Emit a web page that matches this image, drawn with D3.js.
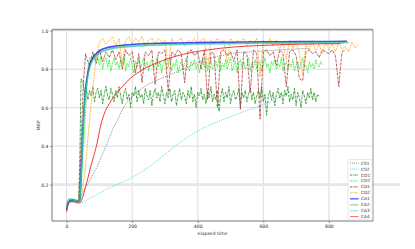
<!DOCTYPE html>
<html lang="en">
<head>
<meta charset="UTF-8">
<title>MAP vs elapsed time</title>
<style>
    body { margin: 0; background: #fff; }
    svg { display: block; font-family: "DejaVu Sans", sans-serif; }
</style>
</head>
<body>
<svg id="chart" width="415" height="249"></svg>
<script src="https://d3js.org/d3.v7.min.js"></script>
<script>

// ---- data ----
const xTicks = [0, 200, 400, 600, 800];
const yTicks = [0.2, 0.4, 0.6, 0.8, 1.0];
const names = ["CS1", "CS2", "CO1", "CO2", "CD1", "CD2", "CA1", "CA2", "CA3", "CA4"];

// smooth runs: [time, MAP]
const cs1 = [[0,0.08],[5,0.1],[10,0.11],[20,0.112],[30,0.11],[37,0.12],[50,0.16],[63,0.2],[78,0.245],[93,0.293],
    [110,0.36],[124,0.415],[144,0.5],[154,0.53],[169,0.585],[195,0.65],[230,0.7],[255,0.727],[286,0.75],[320,0.775],
    [357,0.8],[407,0.84],[460,0.865],[509,0.883],[580,0.892],[650,0.9],[700,0.905],[740,0.908]];
const cs2 = [[0,0.07],[5,0.095],[10,0.105],[20,0.108],[30,0.105],[40,0.105],[73,0.13],[124,0.178],[195,0.233],
    [245,0.285],[286,0.337],[331,0.4],[402,0.48],[488,0.545],[554,0.588],[620,0.63],[685,0.685]];
const ca1 = [[0,0.07],[3,0.095],[8,0.115],[15,0.12],[25,0.118],[35,0.112],[40,0.12],[45,0.3],[50,0.5],[55,0.64],
    [60,0.73],[65,0.78],[70,0.82],[80,0.86],[90,0.88],[100,0.895],[120,0.91],[150,0.92],[200,0.928],[300,0.935],
    [400,0.938],[500,0.94],[600,0.942],[700,0.943],[800,0.944],[855,0.945]];
const ca2 = [[0,0.08],[3,0.11],[8,0.125],[15,0.125],[25,0.12],[35,0.115],[40,0.12],[45,0.28],[50,0.48],[55,0.62],
    [60,0.71],[65,0.77],[70,0.81],[80,0.85],[90,0.87],[100,0.885],[120,0.9],[150,0.912],[200,0.92],[300,0.928],
    [400,0.932],[500,0.934],[600,0.936],[700,0.937],[800,0.938],[860,0.938]];
const ca3 = [[0,0.075],[3,0.1],[8,0.118],[15,0.122],[25,0.118],[35,0.112],[40,0.118],[45,0.27],[50,0.47],[55,0.61],
    [60,0.7],[65,0.76],[70,0.8],[80,0.845],[90,0.868],[100,0.882],[120,0.898],[150,0.91],[200,0.918],[300,0.926],
    [400,0.93],[500,0.932],[600,0.934],[700,0.935],[800,0.936],[845,0.936]];
const ca4 = [[0,0.058],[3,0.09],[8,0.11],[15,0.112],[25,0.11],[35,0.105],[40,0.105],[50,0.14],[58,0.19],[66,0.24],
    [73,0.29],[83,0.35],[93,0.415],[103,0.5],[113,0.56],[130,0.62],[144,0.657],[170,0.71],[195,0.753],[230,0.795],
    [286,0.84],[357,0.878],[430,0.9],[509,0.915],[580,0.922],[650,0.927],[720,0.93],[800,0.932],[835,0.932]];

// noisy runs: a start-up part, then one value every `step` time units
const co1Head = [[0,0.075],[5,0.1],[10,0.115],[20,0.12],[30,0.115],[37,0.11],[41,0.4],[44,0.75]];
const co1Vals = [
    0.73,0.68,0.70,0.64,0.69,0.66,0.71,0.63,0.68,0.70,0.65,0.69,0.62,0.67,0.71,0.66,0.64,0.70,0.67,0.63,
    0.69,0.65,0.71,0.66,0.62,0.68,0.70,0.64,0.67,0.60,0.68,0.66,0.71,0.63,0.69,0.65,0.67,0.62,0.70,0.66,
    0.64,0.69,0.61,0.67,0.70,0.65,0.68,0.63,0.71,0.66,0.62,0.68,0.65,0.70,0.63,0.67,0.69,0.61,0.66,0.70,
    0.64,0.68,0.66,0.62,0.69,0.65,0.71,0.63,0.67,0.60,0.68,0.66,0.70,0.64,0.67,0.62,0.69,0.65,0.71,0.63,
    0.67,0.64,0.69,0.58,0.66,0.70,0.63,0.68,0.65,0.71,0.62,0.67,0.69,0.64,0.66,0.70,0.61,0.68,0.65,0.69,
    0.63,0.67,0.70,0.64,0.68,0.62,0.66,0.69,0.65,0.71,0.63,0.67,0.56,0.66,0.69,0.64,0.68,0.61,0.67,0.70,
    0.65,0.68,0.62,0.69,0.66,0.71,0.63,0.67,0.64,0.70,0.61,0.68,0.65,0.60,0.69,0.66,0.62,0.68,0.65,0.70,
    0.64,0.68,0.63,0.67,0.66];

const co2Head = [[0,0.08],[5,0.105],[10,0.12],[20,0.125],[30,0.12],[40,0.115],[45,0.2],[50,0.35],[55,0.5],
    [58,0.59],[62,0.72],[66,0.82],[70,0.86]];
const co2Vals = [
    0.85,0.88,0.83,0.86,0.82,0.87,0.80,0.84,0.86,0.81,0.85,0.79,0.83,0.86,0.82,0.84,0.80,0.85,0.83,0.87,
    0.79,0.83,0.81,0.86,0.82,0.78,0.84,0.81,0.85,0.80,0.83,0.86,0.81,0.84,0.79,0.83,0.85,0.80,0.82,0.86,
    0.81,0.84,0.78,0.83,0.85,0.80,0.82,0.86,0.79,0.83,0.81,0.85,0.78,0.82,0.84,0.80,0.83,0.86,0.81,0.79,
    0.84,0.82,0.85,0.80,0.83,0.78,0.82,0.86,0.81,0.84,0.79,0.83,0.85,0.80,0.82,0.84,0.81,0.86,0.79,0.83,
    0.81,0.85,0.80,0.83,0.86,0.79,0.82,0.84,0.78,0.83,0.85,0.81,0.84,0.80,0.82,0.86,0.79,0.83,0.81,0.85,
    0.80,0.83,0.84,0.79,0.82,0.86,0.81,0.83,0.78,0.84,0.82,0.85,0.80,0.83,0.81,0.86,0.79,0.82,0.84,0.80,
    0.83,0.81,0.85,0.79,0.82,0.84,0.80,0.83,0.86,0.81,0.82,0.78,0.84,0.81,0.83,0.80,0.85,0.82,0.81,0.84,
    0.82];

const cd1Head = [[0,0.07],[5,0.1],[10,0.115],[20,0.12],[30,0.115],[37,0.12],[42,0.3],[47,0.55],[52,0.75],[58,0.88]];
const cd1Vals = [
    0.86,0.82,0.89,0.83,0.90,0.84,0.89,0.86,0.90,0.85,0.89,0.80,0.90,0.87,0.89,0.78,0.88,0.73,0.89,0.87,
    0.90,0.72,0.89,0.88,0.90,0.68,0.89,0.87,0.90,0.88,0.73,0.89,0.90,0.87,0.89,0.80,0.90,0.64,0.89,0.88,
    0.60,0.89,0.90,0.87,0.89,0.84,0.90,0.59,0.89,0.88,0.68,0.90,0.88,0.54,0.89,0.90,0.87,0.89,0.82,0.90,
    0.88,0.71,0.89,0.90,0.87,0.75,0.74,0.89,0.90,0.88,0.89,0.86,0.90,0.89,0.88,0.90,0.87,0.71,0.89,0.90];

const cd2Head = [[0,0.075],[5,0.1],[10,0.115],[20,0.12],[30,0.115],[40,0.11],[45,0.13],[55,0.25],[62,0.38],
    [68,0.5],[74,0.6],[80,0.7],[86,0.8],[92,0.88]];
const cd2Vals = [
    0.94,0.96,0.93,0.95,0.97,0.92,0.96,0.82,0.95,0.97,0.93,0.96,0.94,0.97,0.92,0.95,0.96,0.93,0.96,0.94,
    0.95,0.81,0.96,0.93,0.95,0.96,0.92,0.95,0.94,0.96,0.93,0.95,0.96,0.80,0.95,0.93,0.96,0.94,0.95,0.83,
    0.96,0.93,0.95,0.94,0.96,0.92,0.95,0.93,0.96,0.76,0.95,0.93,0.96,0.92,0.95,0.90,0.94,0.85,0.95,0.91,
    0.94,0.88,0.77,0.93,0.90,0.95,0.89,0.93,0.88,0.94,0.90,0.93,0.89,0.94,0.90,0.92,0.89,0.94,0.91,0.93];

function noisy(head, from, step, vals) {
    return head.concat(vals.map((v, i) => [from + i * step, v]));
}

// draw order follows the legend
const series = [
    { name: "CS1", pts: cs1, color: "#707070", width: 0.9, dash: "0.9,1.1", smooth: true },
    { name: "CS2", pts: cs2, color: "#2fd4d4", width: 0.9, dash: "0.9,1.1", smooth: true },
    { name: "CO1", pts: noisy(co1Head, 50, 5, co1Vals), color: "#118811", width: 0.8, dash: "2.4,0.7,0.6,0.7" },
    { name: "CO2", pts: noisy(co2Head, 80, 5, co2Vals), color: "#22ee22", width: 0.8, dash: "1.8,0.8" },
    { name: "CD1", pts: noisy(cd1Head, 60, 10, cd1Vals), color: "#a52a2a", width: 0.8, dash: "2.4,0.7,0.6,0.7" },
    { name: "CD2", pts: noisy(cd2Head, 100, 10, cd2Vals), color: "#ffa520", width: 0.8, dash: "1.8,0.8" },
    { name: "CA1", pts: ca1, color: "#1a1aff", width: 1.6, opacity: 0.8, smooth: true },
    { name: "CA2", pts: ca2, color: "#2ca02c", width: 1.6, opacity: 0.5, smooth: true },
    { name: "CA3", pts: ca3, color: "#30d8c8", width: 1.4, opacity: 0.6, smooth: true },
    { name: "CA4", pts: ca4, color: "#ee2222", width: 1.0, opacity: 0.9, smooth: true }
];

// ---- layout ----
const svg = d3.select("#chart");
const L = 52, R = 373, T = 29.5, B = 221;

const x = d3.scaleLinear().domain([-44.5, 934.5]).range([L, R]);
const y = d3.scaleLinear().domain([0.011, 1.006]).range([B, T]);

svg.append("rect").attr("width", 415).attr("height", 249).attr("fill", "#fff");

// grid
const grid = svg.append("g").attr("stroke", "#d4d4d4").attr("stroke-width", 0.8);
grid.selectAll(".gx").data(xTicks).join("line")
    .attr("x1", d => x(d)).attr("x2", d => x(d)).attr("y1", T).attr("y2", B);
grid.selectAll(".gy").data(yTicks.filter(d => d !== 0.2)).join("line")
    .attr("x1", L).attr("x2", R).attr("y1", d => y(d)).attr("y2", d => y(d));
// the 0.2 line is a wider pale band that runs past the frame
svg.append("line").attr("x1", L).attr("x2", 400).attr("y1", y(0.2)).attr("y2", y(0.2))
    .attr("stroke", "#e6e6e6").attr("stroke-width", 2.6);

// lines
const plot = svg.append("g");
series.forEach(s => {
    const line = d3.line().x(d => x(d[0])).y(d => y(d[1]))
        .curve(s.smooth ? d3.curveMonotoneX : d3.curveLinear);
    plot.append("path")
        .attr("d", line(s.pts))
        .attr("fill", "none")
        .attr("stroke", s.color)
        .attr("stroke-width", s.width)
        .attr("stroke-opacity", s.opacity || 1)
        .attr("stroke-dasharray", s.dash || null)
        .attr("stroke-linejoin", "round");
});

// frame
svg.append("line").attr("x1", L).attr("x2", R).attr("y1", T).attr("y2", T)
    .attr("stroke", "#999").attr("stroke-width", 1.5);
svg.append("line").attr("x1", R).attr("x2", R).attr("y1", T).attr("y2", B)
    .attr("stroke", "#888").attr("stroke-width", 0.9);
svg.append("line").attr("x1", L).attr("x2", L).attr("y1", T).attr("y2", B)
    .attr("stroke", "#666").attr("stroke-width", 0.9);
svg.append("line").attr("x1", L).attr("x2", R).attr("y1", B).attr("y2", B)
    .attr("stroke", "#666").attr("stroke-width", 0.9);

// axes
const xAxis = svg.append("g").attr("transform", `translate(0,${B})`)
    .call(d3.axisBottom(x).tickValues(xTicks).tickSize(2).tickPadding(1.5).tickFormat(d3.format("d")));
const yAxis = svg.append("g").attr("transform", `translate(${L},0)`)
    .call(d3.axisLeft(y).tickValues(yTicks).tickSize(2).tickPadding(1.5).tickFormat(d3.format(".1f")));
[xAxis, yAxis].forEach(a => {
    a.select(".domain").remove();
    a.selectAll(".tick line").attr("stroke", "#555").attr("stroke-width", 0.6);
    a.selectAll("text").attr("font-size", 4.6).attr("fill", "#333").attr("font-family", "DejaVu Sans");
});

svg.append("text").attr("x", (L + R) / 2).attr("y", 235)
    .attr("text-anchor", "middle").attr("font-size", 4.6).attr("fill", "#333")
    .text("elapsed time");
svg.append("text").attr("transform", `translate(40,${(T + B) / 2}) rotate(-90)`)
    .attr("text-anchor", "middle").attr("font-size", 4.6).attr("fill", "#333")
    .text("MAP");

// legend
const lg = svg.append("g").attr("transform", "translate(348,159.5)");
lg.append("rect").attr("width", 24).attr("height", 60.5).attr("rx", 1)
    .attr("fill", "#fff").attr("stroke", "#d8d8d8").attr("stroke-width", 0.6);
const rows = lg.selectAll(".row").data(series).join("g")
    .attr("transform", (d, i) => `translate(0,${3.6 + i * 5.95})`);
rows.append("line").attr("x1", 2).attr("x2", 10.5).attr("y1", 0).attr("y2", 0)
    .attr("stroke", d => d.color)
    .attr("stroke-width", d => d.width)
    .attr("stroke-opacity", d => d.opacity ? d.opacity * 0.75 : 1)
    .attr("stroke-dasharray", d => d.dash || null);
rows.append("text").attr("x", 13).attr("y", 1.5)
    .attr("font-size", 4.3).attr("fill", "#333")
    .text(d => d.name);

</script>
</body>
</html>
